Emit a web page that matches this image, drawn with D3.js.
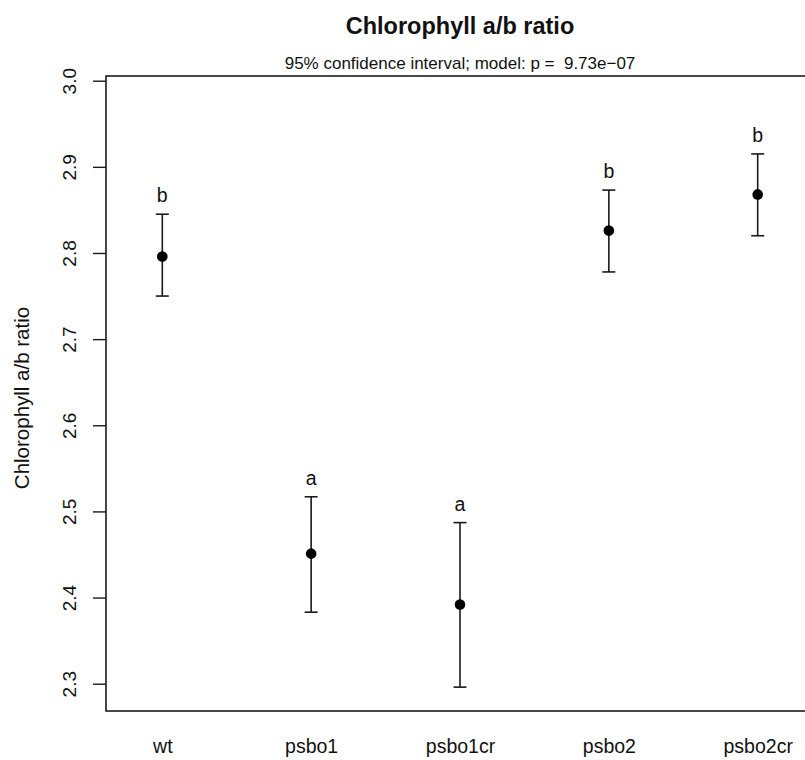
<!DOCTYPE html>
<html>
<head>
<meta charset="utf-8">
<script src="https://cdn.jsdelivr.net/npm/d3@7"></script>
<style>
  html, body { margin: 0; padding: 0; background: #fff; }
  svg { display: block; font-family: "Liberation Sans", Arial, Helvetica, sans-serif; }
</style>
</head>
<body>
<div id="chart"></div>
<script>
// Group means with 95% confidence limits and compact-letter groupings
const categories = ["wt", "psbo1", "psbo1cr", "psbo2", "psbo2cr"];
const means      = [2.796, 2.451, 2.392, 2.826, 2.868];
const lowerCI    = [2.750, 2.383, 2.296, 2.778, 2.820];
const upperCI    = [2.845, 2.517, 2.487, 2.873, 2.915];
const groupLetters = ["b", "a", "a", "b", "b"];
const yTicks = [2.3, 2.4, 2.5, 2.6, 2.7, 2.8, 2.9, 3.0];

const titleText = "Chlorophyll a/b ratio";
const subtitleText = "95% confidence interval; model: p =  9.73e\u221207";
const yLabelText = "Chlorophyll a/b ratio";

const W = 805, H = 760;
const box = { left: 106, right: 814, top: 76, bottom: 711 };

const svg = d3.select("#chart").append("svg")
  .attr("width", W).attr("height", H);

svg.append("rect").attr("width", W).attr("height", H).attr("fill", "#fff");

const x = d3.scalePoint().domain(categories).range([162.3, 757.7]);
const y = d3.scaleLinear().domain([2.3, 3.0]).range([683.7, 80.7]);

const data = categories.map((c, i) => ({
  cat: c, mean: means[i], lo: lowerCI[i], hi: upperCI[i], letter: groupLetters[i]
}));

// plot frame
svg.append("rect")
  .attr("x", box.left).attr("y", box.top)
  .attr("width", box.right - box.left).attr("height", box.bottom - box.top)
  .attr("fill", "none").attr("stroke", "#1a1a1a").attr("stroke-width", 1.6);

// y axis: ticks outside the frame, labels rotated
const yAxis = d3.axisLeft(y).tickValues(yTicks).tickFormat(d3.format(".1f"))
  .tickSize(13).tickPadding(0);
const gy = svg.append("g").attr("transform", `translate(${box.left},0)`).call(yAxis);
gy.select(".domain").remove();
gy.selectAll(".tick line").attr("stroke", "#1a1a1a").attr("stroke-width", 1.4);
gy.selectAll(".tick text")
  .attr("x", 0).attr("dy", null)
  .attr("transform", "translate(-30,0) rotate(-90)")
  .attr("text-anchor", "middle")
  .attr("font-size", 19).attr("fill", "#111");

// category labels along the bottom
const xAxis = d3.axisBottom(x).tickSize(0).tickPadding(0);
const gx = svg.append("g").attr("transform", `translate(0,${box.bottom})`).call(xAxis);
gx.select(".domain").remove();
gx.selectAll(".tick text")
  .attr("y", 42).attr("dy", null)
  .attr("font-size", 19.5).attr("fill", "#111");

// error bars
const bars = svg.append("g").selectAll("g").data(data).join("g");
bars.append("line")
  .attr("x1", d => x(d.cat)).attr("x2", d => x(d.cat))
  .attr("y1", d => y(d.hi)).attr("y2", d => y(d.lo))
  .attr("stroke", "#1a1a1a").attr("stroke-width", 1.6);
[["hi"], ["lo"]].forEach(([k]) => {
  bars.append("line")
    .attr("x1", d => x(d.cat) - 6.5).attr("x2", d => x(d.cat) + 6.5)
    .attr("y1", d => y(d[k])).attr("y2", d => y(d[k]))
    .attr("stroke", "#1a1a1a").attr("stroke-width", 1.6);
});
bars.append("circle")
  .attr("cx", d => x(d.cat)).attr("cy", d => y(d.mean))
  .attr("r", 5.3).attr("fill", "#000");
bars.append("text")
  .attr("x", d => x(d.cat)).attr("y", d => y(d.hi) - 12)
  .attr("text-anchor", "middle").attr("font-size", 19.5).attr("fill", "#111")
  .text(d => d.letter);

// titles
svg.append("text")
  .attr("x", (box.left + box.right) / 2).attr("y", 34)
  .attr("text-anchor", "middle").attr("font-size", 23.5).attr("font-weight", "bold")
  .attr("fill", "#111").text(titleText);
svg.append("text")
  .attr("x", (box.left + box.right) / 2).attr("y", 69)
  .attr("text-anchor", "middle").attr("font-size", 17).attr("fill", "#111")
  .style("white-space", "pre")
  .text(subtitleText);
svg.append("text")
  .attr("transform", `translate(29,398) rotate(-90)`)
  .attr("text-anchor", "middle").attr("font-size", 20.5).attr("fill", "#111")
  .text(yLabelText);
</script>
</body>
</html>
